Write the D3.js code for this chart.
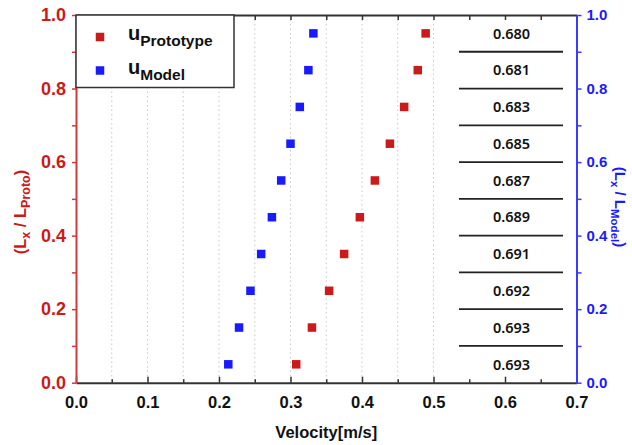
<!DOCTYPE html>
<html><head><meta charset="utf-8">
<script src="https://cdn.jsdelivr.net/npm/d3@7"></script>
<style>body{margin:0;background:#fff}svg{display:block}</style>
</head><body><svg id="c" width="632" height="445"></svg>
<script>
const heights = [0.05,0.15,0.25,0.35,0.45,0.55,0.65,0.75,0.85,0.95];
const uPrototype = [0.308,0.330,0.354,0.375,0.397,0.418,0.439,0.459,0.478,0.489];
const uModel = [0.213,0.228,0.244,0.259,0.274,0.287,0.300,0.313,0.325,0.332];
const ratios = ["0.693","0.693","0.692","0.691","0.689","0.687","0.685","0.683","0.681","0.680"];
const xTicks = [0,0.1,0.2,0.3,0.4,0.5,0.6,0.7];
const yTicks = [0,0.2,0.4,0.6,0.8,1.0];

const RED="#cc1a1a", BLUE="#1a1aff", AXRED="#d03a3a", AXBLUE="#3b3bff";
const svg=d3.select("#c");
const L=76,R=576.5,T=15,B=382.7;
const x=d3.scaleLinear().domain([0,0.7]).range([L,R]);
const y=d3.scaleLinear().domain([0,1]).range([B,T]);
const font="'Liberation Sans', Arial, sans-serif";

// grid
const gx=d3.range(1,11).map(i=>i*0.05);
svg.append("g").selectAll("line").data(gx).join("line")
 .attr("x1",d=>x(d)).attr("x2",d=>x(d)).attr("y1",T).attr("y2",B)
 .attr("stroke","#c8c8c8").attr("stroke-width",1).attr("stroke-dasharray","1.5,3");

// bottom axis
const bAx=svg.append("g").attr("transform",`translate(0,${B})`)
 .call(d3.axisBottom(x).tickValues(xTicks).tickFormat(d3.format(".1f")).tickSizeInner(-6).tickSizeOuter(0).tickPadding(14));
bAx.select(".domain").attr("stroke","#333").attr("stroke-width",2);
bAx.selectAll(".tick line").attr("stroke","#333").attr("stroke-width",1.5);
bAx.selectAll("text").attr("font-family",font).attr("font-weight","bold").attr("font-size",16.5).attr("fill","#111");
svg.append("g").attr("transform",`translate(0,${B})`)
 .call(d3.axisBottom(x).tickValues(d3.range(0,7).map(i=>i*0.1+0.05)).tickFormat("").tickSizeInner(-3.5).tickSizeOuter(0))
 .call(g=>{g.select(".domain").remove();g.selectAll("line").attr("stroke","#333").attr("stroke-width",1.5);});

// top axis
const tAx=svg.append("g").attr("transform",`translate(0,${T})`)
 .call(d3.axisTop(x).tickValues(d3.range(1,14).map(i=>i*0.05)).tickFormat("").tickSizeInner(-5).tickSizeOuter(0));
tAx.select(".domain").attr("stroke","#333").attr("stroke-width",2);
tAx.selectAll(".tick line").attr("stroke","#333").attr("stroke-width",1.5);

// left axis
const lAx=svg.append("g").attr("transform",`translate(${L},0)`)
 .call(d3.axisLeft(y).tickValues(yTicks).tickFormat(d3.format(".1f")).tickSizeInner(4).tickSizeOuter(0).tickPadding(6));
lAx.select(".domain").attr("stroke",AXRED).attr("stroke-width",2);
lAx.selectAll(".tick line").attr("stroke",AXRED).attr("stroke-width",1.5);
lAx.selectAll("text").attr("font-family",font).attr("font-weight","bold").attr("font-size",18).attr("fill",RED);
svg.append("g").attr("transform",`translate(${L},0)`)
 .call(d3.axisLeft(y).tickValues([0.1,0.3,0.5,0.7,0.9]).tickFormat("").tickSizeInner(4).tickSizeOuter(0))
 .call(g=>{g.select(".domain").remove();g.selectAll("line").attr("stroke",AXRED).attr("stroke-width",1.5);});

// right axis
const rAx=svg.append("g").attr("transform",`translate(${R},0)`)
 .call(d3.axisRight(y).tickValues(yTicks).tickFormat(d3.format(".1f")).tickSizeInner(5).tickSizeOuter(0).tickPadding(5));
rAx.select(".domain").attr("stroke",AXBLUE).attr("stroke-width",2);
rAx.selectAll(".tick line").attr("stroke",AXBLUE).attr("stroke-width",1.5);
rAx.selectAll("text").attr("font-family",font).attr("font-weight","bold").attr("font-size",15).attr("fill",BLUE);
svg.append("g").attr("transform",`translate(${R},0)`)
 .call(d3.axisRight(y).tickValues([0.1,0.3,0.5,0.7,0.9]).tickFormat("").tickSizeInner(5).tickSizeOuter(0))
 .call(g=>{g.select(".domain").remove();g.selectAll("line").attr("stroke",AXBLUE).attr("stroke-width",1.5);});

// table
const tblX1=459,tblX2=563;
svg.append("g").selectAll("line").data(d3.range(1,10).map(i=>i/10)).join("line")
 .attr("x1",tblX1).attr("x2",tblX2).attr("y1",d=>y(d)).attr("y2",d=>y(d))
 .attr("stroke","#222").attr("stroke-width",1.8);
svg.append("g").selectAll("text").data(ratios).join("text")
 .attr("x",(tblX1+tblX2)/2+0.5).attr("y",(d,i)=>y(heights[i])).attr("dy","0.36em")
 .attr("text-anchor","middle").attr("font-family","'Noto Sans', 'Open Sans', sans-serif")
 .attr("font-weight","600").attr("font-size",14.5).attr("fill","#111").text(d=>d);

// markers
const S=8.5;
svg.append("g").selectAll("rect").data(heights).join("rect")
 .attr("x",(d,i)=>x(uPrototype[i])-S/2).attr("y",d=>y(d)-S/2).attr("width",S).attr("height",S).attr("fill",RED);
svg.append("g").selectAll("rect").data(heights).join("rect")
 .attr("x",(d,i)=>x(uModel[i])-S/2).attr("y",d=>y(d)-S/2).attr("width",S).attr("height",S).attr("fill",BLUE);

// legend
svg.append("rect").attr("x",L).attr("y",T).attr("width",158).attr("height",72.5)
 .attr("fill","#fff").attr("stroke","#333").attr("stroke-width",1.5);
const leg=[{c:RED,sub:"Prototype",yy:37},{c:BLUE,sub:"Model",yy:70.5}];
leg.forEach(l=>{
  svg.append("rect").attr("x",100-S/2).attr("y",l.yy-S/2).attr("width",S).attr("height",S).attr("fill",l.c);
  const t=svg.append("text").attr("x",128).attr("y",l.yy+3).attr("font-family",font).attr("font-weight","bold").attr("fill","#111");
  t.append("tspan").attr("font-size",20).text("u");
  t.append("tspan").attr("font-size",15.5).attr("dy",6).text(l.sub);
});

// axis titles
svg.append("text").attr("x",(L+R)/2).attr("y",438).attr("text-anchor","middle")
 .attr("font-family",font).attr("font-weight","bold").attr("font-size",16.5).attr("fill","#111").text("Velocity[m/s]");
const lt=svg.append("text").attr("transform","translate(26,212) rotate(-90)").attr("text-anchor","middle")
 .attr("font-family",font).attr("font-weight","bold").attr("font-size",16.5).attr("fill",RED);
lt.append("tspan").text("(L");
lt.append("tspan").attr("font-size",12.5).attr("dy",4).text("x");
lt.append("tspan").attr("dy",-4).text(" / L");
lt.append("tspan").attr("font-size",12.5).attr("dy",4).text("Proto");
lt.append("tspan").attr("dy",-4).text(")");
const rt=svg.append("text").attr("transform","translate(615,207) rotate(90)").attr("text-anchor","middle")
 .attr("font-family",font).attr("font-weight","bold").attr("font-size",15).attr("fill",BLUE);
rt.append("tspan").text("(L");
rt.append("tspan").attr("font-size",11.5).attr("dy",4).text("x");
rt.append("tspan").attr("dy",-4).text(" / L");
rt.append("tspan").attr("font-size",11.5).attr("dy",4).text("Model");
rt.append("tspan").attr("dy",-4).text(")");
</script></body></html>
